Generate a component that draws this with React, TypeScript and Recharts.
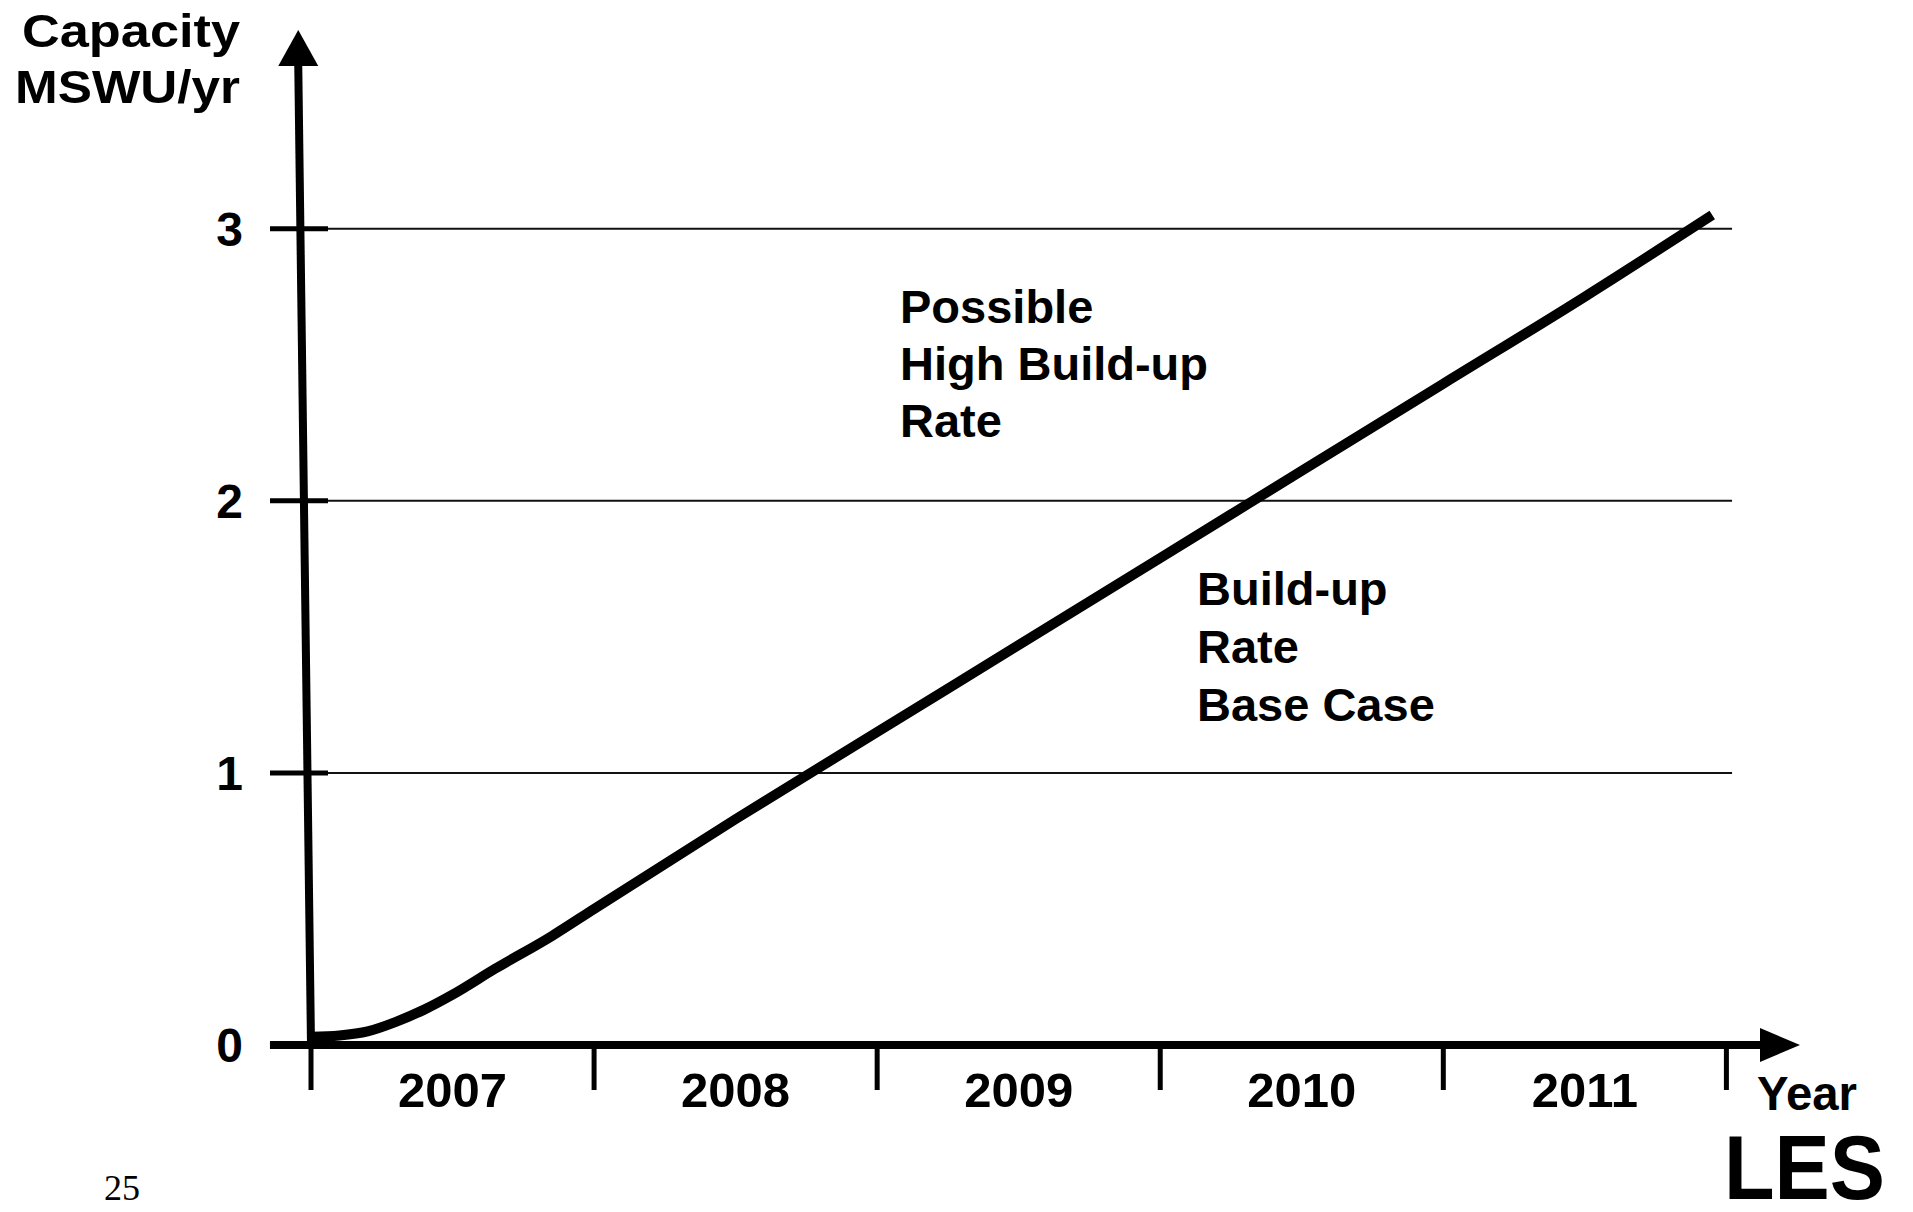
import { LineChart, Line, XAxis, YAxis, ReferenceLine, ReferenceDot } from "recharts";

// year blocks on the x axis, capacity in MSWU/yr
const years = ["2007", "2008", "2009", "2010", "2011"];
const yearBounds = [2007, 2008, 2009, 2010, 2011, 2012];
const capacityTicks = [0, 1, 2, 3];

// base case build-up
const timePoints = [2007.0, 2007.1, 2007.2, 2007.3, 2007.4, 2007.5, 2007.65, 2007.85, 2008.0, 2008.5, 2009.0, 2009.5, 2010.0, 2010.5, 2011.0, 2011.5, 2011.95];
const baseCase = [0.03, 0.035, 0.05, 0.085, 0.13, 0.185, 0.28, 0.4, 0.5, 0.83, 1.15, 1.47, 1.79, 2.11, 2.43, 2.75, 3.05];

const data = timePoints.map((t, i) => ({ t, v: baseCase[i] }));

const X_MIN = 2007;
const X_MAX = 2012.26;
const Y_MAX = 3.73;
const FONT = "'Liberation Sans', Arial, sans-serif";

const xTicks = [...yearBounds, ...years.map((y) => Number(y) + 0.5)].sort((a, b) => a - b);

function YearTick(props: any) {
  const { x, y, payload } = props;
  const v = payload.value;
  if (Number.isInteger(v)) {
    return <line x1={x} y1={y} x2={x} y2={y + 45} stroke="#000" strokeWidth={5} />;
  }
  const label = years.find((yr) => Number(yr) === Math.floor(v));
  return (
    <text x={x} y={y + 62} textAnchor="middle" fontFamily={FONT} fontWeight="bold" fontSize={49} fill="#000">
      {label}
    </text>
  );
}

function CapTick(props: any) {
  const { x, y, payload } = props;
  return (
    <g>
      {payload.value > 0 && <line x1={x - 41} y1={y} x2={x + 17} y2={y} stroke="#000" strokeWidth={5} />}
      <text x={x - 68} y={y + 17} textAnchor="end" fontFamily={FONT} fontWeight="bold" fontSize={48} fill="#000">
        {payload.value}
      </text>
    </g>
  );
}

const upArrow = (p: any) => (
  <polygon points={`${p.cx},${p.cy} ${p.cx - 20},${p.cy + 36} ${p.cx + 20},${p.cy + 36}`} fill="#000" />
);
const rightArrow = (p: any) => (
  <polygon points={`${p.cx},${p.cy} ${p.cx - 40},${p.cy - 17} ${p.cx - 40},${p.cy + 17}`} fill="#000" />
);

export default function App() {
  return (
    <div style={{ position: "absolute", left: 0, top: 0, width: 1913, height: 1212, background: "#fff" }}>
      <LineChart width={1913} height={1212} data={data} margin={{ top: 30, right: 113, left: 0, bottom: 0 }}>
        <XAxis
          dataKey="t"
          type="number"
          domain={[X_MIN, X_MAX]}
          ticks={xTicks}
          interval={0}
          height={167}
          axisLine={false}
          tickLine={false}
          tickSize={0}
          tickMargin={0}
          tick={YearTick}
        />
        <YAxis
          type="number"
          domain={[0, Y_MAX]}
          ticks={capacityTicks}
          interval={0}
          width={311}
          axisLine={false}
          tickLine={false}
          tickSize={0}
          tickMargin={0}
          tick={CapTick}
        />
        {capacityTicks
          .filter((v) => v > 0)
          .map((v) => (
            <ReferenceLine
              key={v}
              segment={[{ x: X_MIN, y: v }, { x: 2012.02, y: v }]}
              stroke="#111"
              strokeWidth={2}
              ifOverflow="visible"
            />
          ))}
        <ReferenceLine
          segment={[{ x: 2006.855, y: 0 }, { x: 2012.12, y: 0 }]}
          stroke="#000"
          strokeWidth={8}
          ifOverflow="visible"
        />
        <ReferenceLine
          segment={[{ x: X_MIN, y: 0 }, { x: 2006.955, y: 3.6 }]}
          stroke="#000"
          strokeWidth={8}
          ifOverflow="visible"
        />
        <ReferenceDot x={2006.955} y={Y_MAX} r={1} ifOverflow="visible" shape={upArrow} />
        <ReferenceDot x={X_MAX} y={0} r={1} ifOverflow="visible" shape={rightArrow} />
        <Line
          dataKey="v"
          type="monotone"
          stroke="#000"
          strokeWidth={10}
          dot={false}
          activeDot={false}
          isAnimationActive={false}
        />
      </LineChart>
      <svg width={1913} height={1212} style={{ position: "absolute", left: 0, top: 0, pointerEvents: "none" }}>
        <g fontFamily={FONT} fontWeight="bold" fill="#000">
          <text x={22} y={47} fontSize={46} textLength={218} lengthAdjust="spacingAndGlyphs">Capacity</text>
          <text x={15} y={103} fontSize={46} textLength={225} lengthAdjust="spacingAndGlyphs">MSWU/yr</text>
          <text x={900} y={323} fontSize={47}>Possible</text>
          <text x={900} y={380} fontSize={47}>High Build-up</text>
          <text x={900} y={437} fontSize={47}>Rate</text>
          <text x={1197} y={605} fontSize={47}>Build-up</text>
          <text x={1197} y={663} fontSize={47}>Rate</text>
          <text x={1197} y={721} fontSize={47}>Base Case</text>
          <text x={1757} y={1110} fontSize={48} textLength={100} lengthAdjust="spacingAndGlyphs">Year</text>
          <text x={1724} y={1199} fontSize={90} textLength={161} lengthAdjust="spacingAndGlyphs">LES</text>
        </g>
        <text x={104} y={1200} fontFamily="'Liberation Serif', serif" fontSize={36} fill="#000">25</text>
      </svg>
    </div>
  );
}
